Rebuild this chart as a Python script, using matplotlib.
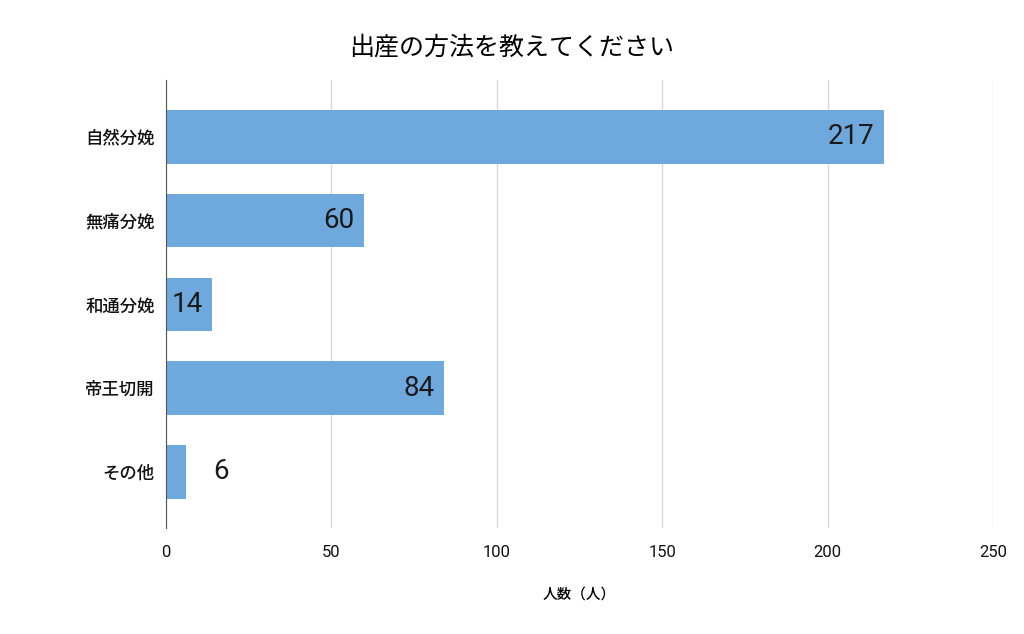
import matplotlib
matplotlib.use('Agg')
import matplotlib.pyplot as plt

plt.rcParams['font.family'] = ['Roboto', 'Noto Sans CJK JP', 'DejaVu Sans']

categories = ['自然分娩', '無痛分娩', '和通分娩', '帝王切開', 'その他']
counts = [217, 60, 14, 84, 6]
ticks = [0, 50, 100, 150, 200, 250]

fig = plt.figure(figsize=(10.24, 6.34), dpi=100)
ax = fig.add_axes([0.162, 0.167, 0.808, 0.707])

pos = range(len(categories))
bars = ax.barh(pos, counts, height=0.64, color='#6fa8dc', zorder=2)

for b, v in zip(bars, counts):
    y = b.get_y() + b.get_height() / 2
    if v > 10:
        ax.annotate(str(v), (v, y), xytext=(-7, 0), textcoords='offset points',
                    ha='right', va='center', fontsize=20, color='#1a1a1a', zorder=3)
    else:
        ax.annotate(str(v), (v, y), xytext=(20, 0), textcoords='offset points',
                    ha='left', va='center', fontsize=20, color='#1a1a1a', zorder=3)

ax.set_yticks(list(pos))
ax.set_yticklabels(categories, fontsize=12.5, family=['Noto Sans CJK JP'], fontweight='medium')
ax.set_ylim(4.67, -0.68)
ax.set_xlim(0, 250)
ax.set_xticks(ticks)
ax.tick_params(axis='x', length=0, pad=12, labelsize=12, colors='#111111')
ax.tick_params(axis='y', length=0, pad=8, colors='#111111')
ax.grid(axis='x', color='#d9d9d9', linewidth=1, zorder=0)

for s in ['top', 'right', 'bottom']:
    ax.spines[s].set_visible(False)
ax.spines['left'].set_color('#555555')
ax.spines['left'].set_zorder(4)

ax.set_xlabel('人数（人）', fontsize=10.5, labelpad=20, family=['Noto Sans CJK JP'], fontweight='medium')
fig.suptitle('出産の方法を教えてください', y=0.945, fontsize=18, family=['Noto Sans CJK JP'])

plt.savefig('out.png', dpi=100)
